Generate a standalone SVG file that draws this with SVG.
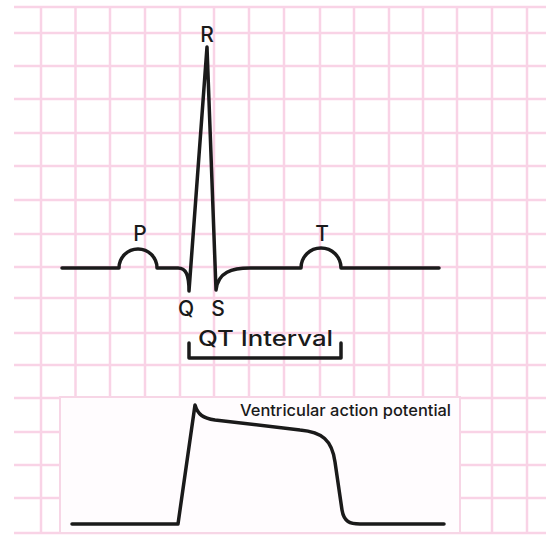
<svg xmlns="http://www.w3.org/2000/svg" width="546" height="535" viewBox="0 0 546 535">
<style>
.grid line{stroke:#f9d3e6;stroke-width:2.5}
.trace{fill:none;stroke:#1a1a1a;stroke-width:3.5;stroke-linejoin:round;stroke-linecap:round}
.lbl{font-family:Inter,"Liberation Sans",sans-serif;font-weight:500;fill:#1a1a1a}
</style>
<rect width="546" height="535" fill="#ffffff"/>
<g class="grid" id="grid">
<line x1="14" y1="7" x2="546" y2="7"/>
<line x1="14" y1="33" x2="546" y2="33"/>
<line x1="14" y1="66" x2="546" y2="66"/>
<line x1="14" y1="99" x2="546" y2="99"/>
<line x1="14" y1="133" x2="546" y2="133"/>
<line x1="14" y1="166" x2="546" y2="166"/>
<line x1="14" y1="200" x2="546" y2="200"/>
<line x1="14" y1="234" x2="546" y2="234"/>
<line x1="14" y1="267" x2="546" y2="267"/>
<line x1="14" y1="298" x2="546" y2="298"/>
<line x1="14" y1="333" x2="546" y2="333"/>
<line x1="14" y1="365" x2="546" y2="365"/>
<line x1="14" y1="398" x2="546" y2="398"/>
<line x1="14" y1="432" x2="546" y2="432"/>
<line x1="14" y1="465" x2="546" y2="465"/>
<line x1="14" y1="498" x2="546" y2="498"/>
<line x1="14" y1="533" x2="546" y2="533"/>
<line x1="41" y1="7" x2="41" y2="533"/>
<line x1="75.5" y1="7" x2="75.5" y2="533"/>
<line x1="110" y1="7" x2="110" y2="533"/>
<line x1="145" y1="7" x2="145" y2="533"/>
<line x1="180" y1="7" x2="180" y2="533"/>
<line x1="214" y1="7" x2="214" y2="533"/>
<line x1="249" y1="7" x2="249" y2="533"/>
<line x1="284" y1="7" x2="284" y2="533"/>
<line x1="320" y1="7" x2="320" y2="533"/>
<line x1="354" y1="7" x2="354" y2="533"/>
<line x1="389" y1="7" x2="389" y2="533"/>
<line x1="423" y1="7" x2="423" y2="533"/>
<line x1="457" y1="7" x2="457" y2="533"/>
<line x1="492" y1="7" x2="492" y2="533"/>
<line x1="527" y1="7" x2="527" y2="533"/>
</g>
<g id="ecg">
<path class="trace" d="M62,268 L119,268 A19,19 0 0 1 157,268 L178,268 C186,268 189,275 189,291 L207,47 L216,290 C218,272 232,268 250,268 L301,268 A20,20 0 0 1 341,268 L439,268"/>
<text class="lbl" x="207" y="42" font-size="21" text-anchor="middle">R</text>
<text class="lbl" x="140" y="241" font-size="21" text-anchor="middle">P</text>
<text class="lbl" x="322" y="241" font-size="21" text-anchor="middle">T</text>
<text class="lbl" x="186" y="316" font-size="21" text-anchor="middle">Q</text>
<text class="lbl" x="218" y="316" font-size="21" text-anchor="middle">S</text>
</g>
<g id="qt-interval">
<path class="trace" d="M189,343 L189,358 L341,358 L341,343" stroke-width="3" stroke-linejoin="miter"/>
<text class="lbl" x="198" y="346" font-size="21" textLength="135" lengthAdjust="spacingAndGlyphs">QT Interval</text>
</g>
<g id="action-potential">
<rect x="60" y="397" width="400" height="136" fill="#fffcfe" stroke="#f7d6e6" stroke-width="2"/>
<path class="trace" d="M72,524 L178,524 L195,405 C198,415 203,418 215,420 L300,430 C322,432 332,440 335,462 L342,510 C344,522 350,524 360,524 L444,524"/>
<text class="lbl" x="240" y="416" font-size="16" textLength="211" lengthAdjust="spacingAndGlyphs">Ventricular action potential</text>
</g>
</svg>
